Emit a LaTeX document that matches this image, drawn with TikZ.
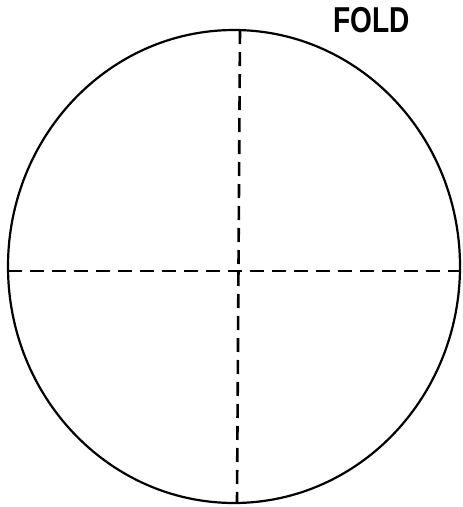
\documentclass[tikz,border=0pt]{standalone}
\usepackage{fontspec}
\setmainfont{Liberation Sans}
\begin{document}
\begin{tikzpicture}[x=1pt, y=-1pt, >=stealth,
    foldline/.style={line width=2.6pt, dash pattern=on 14pt off 8pt}]
    \useasboundingbox (0,0) rectangle (463,507);

    % 円
    \draw[line width=2.2pt] (234,266.5) ellipse [x radius=226, y radius=236.5];

    % 端点
    \coordinate (top) at (240,30);
    \coordinate (bottom) at (237,503);
    \coordinate (left) at (8,271);
    \coordinate (right) at (460,271);

    % 折り線
    \draw[foldline] (left) -- (right);
    \draw[foldline] (top) -- (bottom);

    % ラベル
    \node[font=\bfseries\fontsize{36}{36}\selectfont] (fold) at (372,20) {\scalebox{0.78}[1]{FOLD}};
\end{tikzpicture}
\end{document}
